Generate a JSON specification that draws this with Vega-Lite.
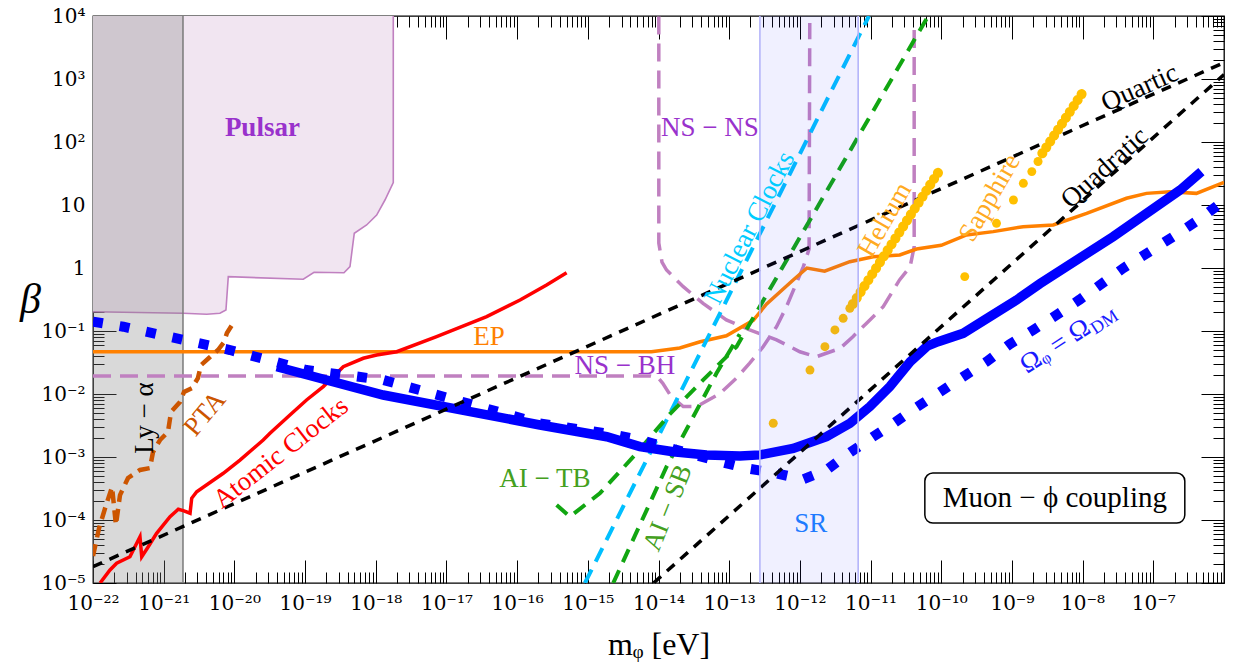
{
  "$schema": "https://vega.github.io/schema/vega-lite/v6.json",
  "width": 1131,
  "height": 567,
  "autosize": {"type": "none"},
  "padding": {"left": 93, "top": 16, "right": 9, "bottom": 83},
  "background": "white",
  "config": {
    "view": {"stroke": "black", "strokeWidth": 1.3},
    "font": "Liberation Serif",
    "text": {"font": "Liberation Serif"}
  },
  "resolve": {"axis": {"x": "independent", "y": "independent"}},
  "datasets": {
    "pulsar": [
      {"m": 1e-22, "beta": 0.202}, {"m": 1.89e-21, "beta": 0.191}, {"m": 4.06e-21, "beta": 0.184},
      {"m": 6.25e-21, "beta": 0.191}, {"m": 7.6e-21, "beta": 0.215}, {"m": 8.2e-21, "beta": 0.728},
      {"m": 9.44e-20, "beta": 0.662}, {"m": 1.34e-19, "beta": 0.855}, {"m": 3.55e-19, "beta": 0.841},
      {"m": 4.32e-19, "beta": 1.05}, {"m": 4.97e-19, "beta": 3.56}, {"m": 7.43e-19, "beta": 4.82},
      {"m": 1.03e-18, "beta": 6.93}, {"m": 1.35e-18, "beta": 12.0}, {"m": 1.77e-18, "beta": 22.6},
      {"m": 1.77e-18, "beta": 10000}
    ],
    "lya": [{"m1": 1e-22, "m2": 1.875e-21}],
    "sr": [{"m1": 2.72e-13, "m2": 6.68e-12}],
    "box": [{"m1": 5.86e-11, "m2": 2.79e-7, "b1": 8.95e-5, "b2": 5.57e-4}],
    "blue_solid": [
      {"m": 3.98e-20, "beta": 0.0271}, {"m": 1.276e-18, "beta": 0.00964}, {"m": 2.1e-16, "beta": 0.00322},
      {"m": 1.85e-15, "beta": 0.0021}, {"m": 5.46e-15, "beta": 0.00146}, {"m": 1.61e-14, "beta": 0.00121},
      {"m": 4.79e-14, "beta": 0.00108}, {"m": 1.42e-13, "beta": 0.00104}, {"m": 2.72e-13, "beta": 0.00108},
      {"m": 8.04e-13, "beta": 0.00137}, {"m": 2.38e-12, "beta": 0.0021}, {"m": 5.09e-12, "beta": 0.00342},
      {"m": 9.77e-12, "beta": 0.00631}, {"m": 1.875e-11, "beta": 0.0131}, {"m": 3.63e-11, "beta": 0.0326},
      {"m": 6.31e-11, "beta": 0.0575}, {"m": 9.04e-11, "beta": 0.0676}, {"m": 2.04e-10, "beta": 0.0918},
      {"m": 4.88e-10, "beta": 0.169}, {"m": 1.16e-9, "beta": 0.31}, {"m": 2.48e-9, "beta": 0.562},
      {"m": 2.69e-8, "beta": 3.14}, {"m": 2.4e-7, "beta": 17.3}, {"m": 4.79e-7, "beta": 33.9}
    ],
    "blue_dotted": [
      {"m": 1e-22, "beta": 0.141}, {"m": 2.69e-22, "beta": 0.117}, {"m": 8.67e-21, "beta": 0.0499},
      {"m": 1.05e-19, "beta": 0.024}, {"m": 1.28e-18, "beta": 0.0167}, {"m": 2.1e-16, "beta": 0.00342},
      {"m": 2.04e-15, "beta": 0.00232}, {"m": 5.5e-15, "beta": 0.00186}, {"m": 7.38e-14, "beta": 0.000843},
      {"m": 1.76e-13, "beta": 0.000661}, {"m": 4.2e-13, "beta": 0.000564}, {"m": 1.11e-12, "beta": 0.000443},
      {"m": 2.38e-12, "beta": 0.000622}, {"m": 4.57e-12, "beta": 0.00108}, {"m": 1.09e-11, "beta": 0.0021},
      {"m": 2.09e-11, "beta": 0.00339}, {"m": 4.47e-11, "beta": 0.00617}, {"m": 9.55e-11, "beta": 0.0107},
      {"m": 2.04e-10, "beta": 0.0188}, {"m": 4.37e-10, "beta": 0.0326}, {"m": 9.33e-10, "beta": 0.0617},
      {"m": 2.0e-9, "beta": 0.104}, {"m": 4.27e-9, "beta": 0.179}, {"m": 9.12e-9, "beta": 0.316},
      {"m": 3.74e-8, "beta": 0.989}, {"m": 1.91e-7, "beta": 3.14}, {"m": 4.32e-7, "beta": 5.78},
      {"m": 1e-6, "beta": 11.7}
    ],
    "ep": [
      {"m": 1e-22, "beta": 0.0469}, {"m": 7.94e-15, "beta": 0.0469}, {"m": 2.0e-14, "beta": 0.0537},
      {"m": 3.89e-14, "beta": 0.0676}, {"m": 9.12e-14, "beta": 0.0841}, {"m": 2.19e-13, "beta": 0.148},
      {"m": 3.39e-13, "beta": 0.269}, {"m": 8.04e-13, "beta": 0.646}, {"m": 1.26e-12, "beta": 1.0},
      {"m": 2.24e-12, "beta": 0.891}, {"m": 5.09e-12, "beta": 1.26}, {"m": 1.09e-11, "beta": 1.51},
      {"m": 2.59e-11, "beta": 1.61}, {"m": 4.47e-11, "beta": 2.0}, {"m": 1e-10, "beta": 2.29},
      {"m": 2.28e-10, "beta": 3.34}, {"m": 5.43e-10, "beta": 3.78}, {"m": 1.44e-9, "beta": 4.53},
      {"m": 3.84e-9, "beta": 4.82}, {"m": 1.14e-8, "beta": 7.38}, {"m": 4.17e-8, "beta": 12.8},
      {"m": 8.0e-8, "beta": 15.3}, {"m": 1.71e-7, "beta": 16.2}, {"m": 4.07e-7, "beta": 15.3},
      {"m": 1e-6, "beta": 22.9}
    ],
    "nsbh": [
      {"m": 1e-22, "beta": 0.0193}, {"m": 7.59e-15, "beta": 0.0193}, {"m": 1e-14, "beta": 0.0178},
      {"m": 1.15e-14, "beta": 0.0148}, {"m": 1.51e-14, "beta": 0.00912}, {"m": 2.24e-14, "beta": 0.00631},
      {"m": 3.47e-14, "beta": 0.00631}, {"m": 7.41e-14, "beta": 0.0102}, {"m": 1.26e-13, "beta": 0.0178},
      {"m": 1.95e-13, "beta": 0.0309}, {"m": 3.02e-13, "beta": 0.0562}, {"m": 4.68e-13, "beta": 0.117},
      {"m": 6.46e-13, "beta": 0.243}, {"m": 8.91e-13, "beta": 0.571}, {"m": 1.12e-12, "beta": 1.05},
      {"m": 1.35e-12, "beta": 2.0}, {"m": 1.38e-12, "beta": 7760}
    ],
    "nsns": [
      {"m": 1.01e-14, "beta": 9800}, {"m": 1.01e-14, "beta": 2.49}, {"m": 1.12e-14, "beta": 1.24},
      {"m": 1.3e-14, "beta": 0.929}, {"m": 2.24e-14, "beta": 0.505}, {"m": 4.27e-14, "beta": 0.275},
      {"m": 9.12e-14, "beta": 0.15}, {"m": 1.95e-13, "beta": 0.104}, {"m": 4.68e-13, "beta": 0.0724},
      {"m": 1e-12, "beta": 0.0468}, {"m": 1.7e-12, "beta": 0.0389}, {"m": 3.72e-12, "beta": 0.0531},
      {"m": 5.62e-12, "beta": 0.0813}, {"m": 8.71e-12, "beta": 0.132}, {"m": 1.51e-11, "beta": 0.243},
      {"m": 2.57e-11, "beta": 0.646}, {"m": 3.63e-11, "beta": 1.05}, {"m": 4.14e-11, "beta": 2.18},
      {"m": 4.14e-11, "beta": 6760}
    ],
    "quartic": [{"m": 1e-22, "beta": 1.82e-5}, {"m": 1e-6, "beta": 1820}],
    "quadratic": [{"m": 8.51e-15, "beta": 1e-5}, {"m": 1e-6, "beta": 1175}],
    "red": [
      {"m": 1.26e-22, "beta": 1e-5}, {"m": 1.74e-22, "beta": 1.61e-5}, {"m": 2.16e-22, "beta": 2.06e-5},
      {"m": 3.33e-22, "beta": 2.61e-5}, {"m": 4.62e-22, "beta": 5.43e-5}, {"m": 4.89e-22, "beta": 2.61e-5},
      {"m": 6.05e-22, "beta": 3.77e-5}, {"m": 7.94e-22, "beta": 6.15e-5}, {"m": 1.23e-21, "beta": 1.13e-4},
      {"m": 1.61e-21, "beta": 1.48e-4}, {"m": 1.89e-21, "beta": 1.41e-4}, {"m": 2.36e-21, "beta": 1.28e-4},
      {"m": 2.49e-21, "beta": 2.21e-4}, {"m": 2.93e-21, "beta": 2.81e-4}, {"m": 6.97e-21, "beta": 5.51e-4},
      {"m": 1.2e-20, "beta": 8.95e-4}, {"m": 2.56e-20, "beta": 0.00186}, {"m": 3.19e-20, "beta": 0.00238},
      {"m": 6.11e-20, "beta": 0.00465}, {"m": 1.05e-19, "beta": 0.00804}, {"m": 1.81e-19, "beta": 0.0131},
      {"m": 3.47e-19, "beta": 0.0271}, {"m": 6.65e-19, "beta": 0.0369}, {"m": 1.03e-18, "beta": 0.0416},
      {"m": 1.98e-18, "beta": 0.0469}, {"m": 7.26e-18, "beta": 0.0813}, {"m": 3.71e-17, "beta": 0.169},
      {"m": 1.1e-16, "beta": 0.31}, {"m": 2.61e-16, "beta": 0.537}, {"m": 5.01e-16, "beta": 0.841}
    ],
    "pta": [
      {"m": 1e-22, "beta": 2.69e-5}, {"m": 1.22e-22, "beta": 7.46e-5}, {"m": 1.53e-22, "beta": 1.73e-4},
      {"m": 1.86e-22, "beta": 3.34e-4}, {"m": 2.11e-22, "beta": 8.34e-5}, {"m": 2.41e-22, "beta": 2.49e-4},
      {"m": 3.13e-22, "beta": 4.65e-4}, {"m": 4.62e-22, "beta": 6.22e-4}, {"m": 6.4e-22, "beta": 6.68e-4},
      {"m": 7.06e-22, "beta": 0.0012}, {"m": 8.87e-22, "beta": 0.00186}, {"m": 1.15e-21, "beta": 0.00249},
      {"m": 1.27e-21, "beta": 0.00518}, {"m": 1.7e-21, "beta": 0.00746}, {"m": 1.94e-21, "beta": 0.0108},
      {"m": 2.51e-21, "beta": 0.0124}, {"m": 3.05e-21, "beta": 0.0179}, {"m": 3.37e-21, "beta": 0.0288},
      {"m": 4.52e-21, "beta": 0.0386}, {"m": 5.86e-21, "beta": 0.0499}, {"m": 7.13e-21, "beta": 0.0668},
      {"m": 7.85e-21, "beta": 0.0929}, {"m": 9.86e-21, "beta": 0.139}
    ],
    "nuclear": [{"m": 9.1e-16, "beta": 1e-5}, {"m": 9.48e-12, "beta": 10000}],
    "aitb": [
      {"m": 3.62e-16, "beta": 1.73e-4}, {"m": 5.58e-16, "beta": 1.13e-4}, {"m": 1.48e-15, "beta": 2.65e-4},
      {"m": 4.9e-15, "beta": 0.00115}, {"m": 1.48e-14, "beta": 0.00494}, {"m": 4.29e-14, "beta": 0.0167},
      {"m": 1.27e-13, "beta": 0.0564}, {"m": 6.53e-11, "beta": 10000}
    ],
    "aisb": [
      {"m": 2.29e-15, "beta": 1e-5}, {"m": 1.3e-14, "beta": 7.01e-4}, {"m": 6.61e-14, "beta": 0.0213},
      {"m": 1.41e-13, "beta": 0.0891}
    ],
    "helium_pts": [
      {"m": 4.2e-13, "beta": 0.00343}, {"m": 1.39e-12, "beta": 0.024}, {"m": 2.26e-12, "beta": 0.0564},
      {"m": 3.13e-12, "beta": 0.104}, {"m": 4.1e-12, "beta": 0.159}, {"m": 5.09e-12, "beta": 0.229}
    ],
    "helium_line": [{"m": 5.62e-12, "beta": 0.269}, {"m": 9.55e-11, "beta": 36.0}],
    "sapphire_pts": [
      {"m": 2.15e-10, "beta": 0.73}, {"m": 6.05e-10, "beta": 5.12}, {"m": 1.05e-9, "beta": 12.0},
      {"m": 1.45e-9, "beta": 22.1}, {"m": 1.91e-9, "beta": 33.9}, {"m": 2.34e-9, "beta": 49.0}
    ],
    "sapphire_line": [{"m": 2.69e-9, "beta": 66.1}, {"m": 1.02e-8, "beta": 631}],
    "labels": [
      {"label": "Pulsar", "m": 2.49e-20, "beta": 167},
      {"label": "NS − NS", "m": 5.33e-14, "beta": 167},
      {"label": "NS − BH", "m": 3.35e-15, "beta": 0.0278},
      {"label": "EP", "m": 3.99e-17, "beta": 0.0789},
      {"label": "Atomic Clocks", "m": 4.56e-20, "beta": 0.001156},
      {"label": "PTA", "m": 3.84e-21, "beta": 0.00482},
      {"label": "Ly − α", "m": 5.45e-22, "beta": 0.00416},
      {"label": "AI − TB", "m": 2.47e-16, "beta": 0.000448},
      {"label": "AI − SB", "m": 1.36e-14, "beta": 0.000155},
      {"label": "Nuclear Clocks", "m": 1.96e-13, "beta": 4.32},
      {"label": "Helium", "m": 1.59e-11, "beta": 5.78},
      {"label": "Sapphire", "m": 4.86e-10, "beta": 12.9},
      {"label": "Quartic", "m": 6.44e-8, "beta": 719},
      {"label": "Quadratic", "m": 2.06e-8, "beta": 38.6},
      {"label": "Ωᵩ = Ω", "m": 1.19e-8, "beta": 0.124},
      {"label": "DM", "m": 1.19e-8, "beta": 0.124},
      {"label": "SR", "m": 1.43e-12, "beta": 8.65e-5},
      {"label": "Muon − ϕ coupling", "m": 4.05e-9, "beta": 0.000223}
    ]
  },
  "layer": [
    {
      "data": {"name": "pulsar"},
      "mark": {"type": "area", "color": "#f1e5f1", "orient": "vertical", "clip": true},
      "encoding": {
        "x": {"field": "m", "type": "quantitative", "scale": {"type": "log", "domain": [1e-22, 1e-6], "nice": false},
          "axis": {"orient": "bottom", "tickCount": 20, "grid": false, "domain": false, "ticks": true,
            "tickColor": "black", "tickWidth": 1,
            "tickSize": {"condition": {"test": "abs(log(datum.value)/LN10 - round(log(datum.value)/LN10)) < 0.001", "value": -23}, "value": -11},
            "labelExpr": "abs(log(datum.value)/LN10 - round(log(datum.value)/LN10)) < 0.001 ? ['10⁻²²','10⁻²¹','10⁻²⁰','10⁻¹⁹','10⁻¹⁸','10⁻¹⁷','10⁻¹⁶','10⁻¹⁵','10⁻¹⁴','10⁻¹³','10⁻¹²','10⁻¹¹','10⁻¹⁰','10⁻⁹','10⁻⁸','10⁻⁷',''][round(log(datum.value)/LN10) + 22] : ''",
            "labelFont": "DejaVu Serif", "labelFontSize": 20, "labelColor": "black", "labelPadding": 33,
            "labelOverlap": false, "labelFlush": false, "labelBound": false,
            "title": "mᵩ  [eV]", "titleFont": "Liberation Serif", "titleFontSize": 32, "titleFontWeight": "normal",
            "titleColor": "black", "titlePadding": 4}},
        "y": {"field": "beta", "type": "quantitative", "scale": {"type": "log", "domain": [1e-5, 1e4], "nice": false},
          "axis": {"orient": "left", "tickCount": 20, "grid": false, "domain": false, "ticks": true,
            "tickColor": "black", "tickWidth": 1,
            "tickSize": {"condition": {"test": "abs(log(datum.value)/LN10 - round(log(datum.value)/LN10)) < 0.001", "value": -23}, "value": -11},
            "labelExpr": "abs(log(datum.value)/LN10 - round(log(datum.value)/LN10)) < 0.001 ? ['10⁻⁵','10⁻⁴','10⁻³','10⁻²','10⁻¹','1','10','10²','10³','10⁴'][round(log(datum.value)/LN10) + 5] : ''",
            "labelFont": "DejaVu Serif", "labelFontSize": 20, "labelColor": "black", "labelPadding": 31,
            "labelOverlap": false, "labelFlush": false, "labelBound": false,
            "title": "β", "titleAngle": 0, "titleFont": "Liberation Serif", "titleFontSize": 42, "titleFontWeight": "normal",
            "titleFontStyle": "italic", "titleColor": "black", "titlePadding": 11, "titleBaseline": "middle", "titleAlign": "center"}},
        "y2": {"datum": 10000},
        "order": {"value": null}
      }
    },
    {
      "data": {"name": "pulsar"},
      "mark": {"type": "line", "color": "#c080c0", "strokeWidth": 1.6, "clip": true},
      "encoding": {
        "x": {"field": "m", "type": "quantitative", "scale": {"type": "log", "domain": [1e-22, 1e-6], "nice": false},
          "axis": {"orient": "top", "tickCount": 20, "grid": false, "domain": false, "ticks": true, "labels": false, "title": null,
            "tickColor": "black", "tickWidth": 1,
            "tickSize": {"condition": {"test": "abs(log(datum.value)/LN10 - round(log(datum.value)/LN10)) < 0.001", "value": -23}, "value": -11}}},
        "y": {"field": "beta", "type": "quantitative", "scale": {"type": "log", "domain": [1e-5, 1e4], "nice": false},
          "axis": {"orient": "right", "tickCount": 20, "grid": false, "domain": false, "ticks": true, "labels": false, "title": null,
            "tickColor": "black", "tickWidth": 1,
            "tickSize": {"condition": {"test": "abs(log(datum.value)/LN10 - round(log(datum.value)/LN10)) < 0.001", "value": -23}, "value": -11}}},
        "order": {"value": null}
      }
    },
    {
      "data": {"name": "lya"},
      "mark": {"type": "rect", "color": "#808080", "opacity": 0.3, "clip": true},
      "encoding": {
        "x": {"field": "m1", "type": "quantitative", "scale": {"type": "log", "domain": [1e-22, 1e-6], "nice": false}, "axis": null},
        "x2": {"field": "m2"},
        "y": {"datum": 1e-5, "type": "quantitative", "scale": {"type": "log", "domain": [1e-5, 1e4], "nice": false}, "axis": null},
        "y2": {"datum": 10000}
      }
    },
    {
      "data": {"name": "lya"},
      "mark": {"type": "rule", "color": "#7a7a7a", "strokeWidth": 1.5},
      "encoding": {
        "x": {"field": "m2", "type": "quantitative", "scale": {"type": "log", "domain": [1e-22, 1e-6], "nice": false}, "axis": null}
      }
    },
    {
      "data": {"name": "nsbh"},
      "mark": {"type": "line", "color": "#c080c0", "strokeWidth": 3.5, "strokeDash": [18, 9], "clip": true},
      "encoding": {
        "x": {"field": "m", "type": "quantitative", "scale": {"type": "log", "domain": [1e-22, 1e-6], "nice": false}, "axis": null},
        "y": {"field": "beta", "type": "quantitative", "scale": {"type": "log", "domain": [1e-5, 1e4], "nice": false}, "axis": null},
        "order": {"value": null}
      }
    },
    {
      "data": {"name": "nsns"},
      "mark": {"type": "line", "color": "#c080c0", "strokeWidth": 3.5, "strokeDash": [18, 9], "clip": true},
      "encoding": {
        "x": {"field": "m", "type": "quantitative", "scale": {"type": "log", "domain": [1e-22, 1e-6], "nice": false}, "axis": null},
        "y": {"field": "beta", "type": "quantitative", "scale": {"type": "log", "domain": [1e-5, 1e4], "nice": false}, "axis": null},
        "order": {"value": null}
      }
    },
    {
      "data": {"name": "ep"},
      "mark": {"type": "line", "color": "#ff8000", "strokeWidth": 3.5, "clip": true},
      "encoding": {
        "x": {"field": "m", "type": "quantitative", "scale": {"type": "log", "domain": [1e-22, 1e-6], "nice": false}, "axis": null},
        "y": {"field": "beta", "type": "quantitative", "scale": {"type": "log", "domain": [1e-5, 1e4], "nice": false}, "axis": null},
        "order": {"value": null}
      }
    },
    {
      "data": {"name": "red"},
      "mark": {"type": "line", "color": "#ff0000", "strokeWidth": 3.5, "clip": true},
      "encoding": {
        "x": {"field": "m", "type": "quantitative", "scale": {"type": "log", "domain": [1e-22, 1e-6], "nice": false}, "axis": null},
        "y": {"field": "beta", "type": "quantitative", "scale": {"type": "log", "domain": [1e-5, 1e4], "nice": false}, "axis": null},
        "order": {"value": null}
      }
    },
    {
      "data": {"name": "pta"},
      "mark": {"type": "line", "color": "#cc5500", "strokeWidth": 4.5, "strokeDash": [12, 7], "clip": true},
      "encoding": {
        "x": {"field": "m", "type": "quantitative", "scale": {"type": "log", "domain": [1e-22, 1e-6], "nice": false}, "axis": null},
        "y": {"field": "beta", "type": "quantitative", "scale": {"type": "log", "domain": [1e-5, 1e4], "nice": false}, "axis": null},
        "order": {"value": null}
      }
    },
    {
      "data": {"name": "nuclear"},
      "mark": {"type": "line", "color": "#00bfff", "strokeWidth": 4, "strokeDash": [15, 9], "clip": true},
      "encoding": {
        "x": {"field": "m", "type": "quantitative", "scale": {"type": "log", "domain": [1e-22, 1e-6], "nice": false}, "axis": null},
        "y": {"field": "beta", "type": "quantitative", "scale": {"type": "log", "domain": [1e-5, 1e4], "nice": false}, "axis": null},
        "order": {"value": null}
      }
    },
    {
      "data": {"name": "aitb"},
      "mark": {"type": "line", "color": "#11a611", "strokeWidth": 4, "strokeDash": [14, 9], "clip": true},
      "encoding": {
        "x": {"field": "m", "type": "quantitative", "scale": {"type": "log", "domain": [1e-22, 1e-6], "nice": false}, "axis": null},
        "y": {"field": "beta", "type": "quantitative", "scale": {"type": "log", "domain": [1e-5, 1e4], "nice": false}, "axis": null},
        "order": {"value": null}
      }
    },
    {
      "data": {"name": "aisb"},
      "mark": {"type": "line", "color": "#11a611", "strokeWidth": 4, "strokeDash": [14, 9], "clip": true},
      "encoding": {
        "x": {"field": "m", "type": "quantitative", "scale": {"type": "log", "domain": [1e-22, 1e-6], "nice": false}, "axis": null},
        "y": {"field": "beta", "type": "quantitative", "scale": {"type": "log", "domain": [1e-5, 1e4], "nice": false}, "axis": null},
        "order": {"value": null}
      }
    },
    {
      "data": {"name": "blue_dotted"},
      "mark": {"type": "line", "color": "#0000ff", "strokeWidth": 10, "strokeDash": [10, 17], "clip": true},
      "encoding": {
        "x": {"field": "m", "type": "quantitative", "scale": {"type": "log", "domain": [1e-22, 1e-6], "nice": false}, "axis": null},
        "y": {"field": "beta", "type": "quantitative", "scale": {"type": "log", "domain": [1e-5, 1e4], "nice": false}, "axis": null},
        "order": {"value": null}
      }
    },
    {
      "data": {"name": "blue_solid"},
      "mark": {"type": "line", "color": "#0000ff", "strokeWidth": 9.5, "clip": true},
      "encoding": {
        "x": {"field": "m", "type": "quantitative", "scale": {"type": "log", "domain": [1e-22, 1e-6], "nice": false}, "axis": null},
        "y": {"field": "beta", "type": "quantitative", "scale": {"type": "log", "domain": [1e-5, 1e4], "nice": false}, "axis": null},
        "order": {"value": null}
      }
    },
    {
      "data": {"name": "quartic"},
      "mark": {"type": "line", "color": "#000000", "strokeWidth": 3.5, "strokeDash": [10, 8], "clip": true},
      "encoding": {
        "x": {"field": "m", "type": "quantitative", "scale": {"type": "log", "domain": [1e-22, 1e-6], "nice": false}, "axis": null},
        "y": {"field": "beta", "type": "quantitative", "scale": {"type": "log", "domain": [1e-5, 1e4], "nice": false}, "axis": null}
      }
    },
    {
      "data": {"name": "quadratic"},
      "mark": {"type": "line", "color": "#000000", "strokeWidth": 3.5, "strokeDash": [10, 8], "clip": true},
      "encoding": {
        "x": {"field": "m", "type": "quantitative", "scale": {"type": "log", "domain": [1e-22, 1e-6], "nice": false}, "axis": null},
        "y": {"field": "beta", "type": "quantitative", "scale": {"type": "log", "domain": [1e-5, 1e4], "nice": false}, "axis": null}
      }
    },
    {
      "data": {"name": "helium_line"},
      "mark": {"type": "line", "color": "#ffc000", "strokeWidth": 10, "strokeDash": [0.1, 7], "strokeCap": "round", "clip": true},
      "encoding": {
        "x": {"field": "m", "type": "quantitative", "scale": {"type": "log", "domain": [1e-22, 1e-6], "nice": false}, "axis": null},
        "y": {"field": "beta", "type": "quantitative", "scale": {"type": "log", "domain": [1e-5, 1e4], "nice": false}, "axis": null}
      }
    },
    {
      "data": {"name": "helium_pts"},
      "mark": {"type": "point", "filled": true, "color": "#ffc000", "size": 80, "opacity": 1, "clip": true},
      "encoding": {
        "x": {"field": "m", "type": "quantitative", "scale": {"type": "log", "domain": [1e-22, 1e-6], "nice": false}, "axis": null},
        "y": {"field": "beta", "type": "quantitative", "scale": {"type": "log", "domain": [1e-5, 1e4], "nice": false}, "axis": null}
      }
    },
    {
      "data": {"name": "sapphire_line"},
      "mark": {"type": "line", "color": "#ffc000", "strokeWidth": 10, "strokeDash": [0.1, 7], "strokeCap": "round", "clip": true},
      "encoding": {
        "x": {"field": "m", "type": "quantitative", "scale": {"type": "log", "domain": [1e-22, 1e-6], "nice": false}, "axis": null},
        "y": {"field": "beta", "type": "quantitative", "scale": {"type": "log", "domain": [1e-5, 1e4], "nice": false}, "axis": null}
      }
    },
    {
      "data": {"name": "sapphire_pts"},
      "mark": {"type": "point", "filled": true, "color": "#ffc000", "size": 80, "opacity": 1, "clip": true},
      "encoding": {
        "x": {"field": "m", "type": "quantitative", "scale": {"type": "log", "domain": [1e-22, 1e-6], "nice": false}, "axis": null},
        "y": {"field": "beta", "type": "quantitative", "scale": {"type": "log", "domain": [1e-5, 1e4], "nice": false}, "axis": null}
      }
    },
    {
      "data": {"name": "sr"},
      "mark": {"type": "rect", "color": "#4040ff", "opacity": 0.08, "clip": true},
      "encoding": {
        "x": {"field": "m1", "type": "quantitative", "scale": {"type": "log", "domain": [1e-22, 1e-6], "nice": false}, "axis": null},
        "x2": {"field": "m2"},
        "y": {"datum": 1e-5, "type": "quantitative", "scale": {"type": "log", "domain": [1e-5, 1e4], "nice": false}, "axis": null},
        "y2": {"datum": 10000}
      }
    },
    {
      "data": {"name": "sr"},
      "mark": {"type": "rule", "color": "#b4b4fa", "strokeWidth": 1.6},
      "encoding": {
        "x": {"field": "m1", "type": "quantitative", "scale": {"type": "log", "domain": [1e-22, 1e-6], "nice": false}, "axis": null}
      }
    },
    {
      "data": {"name": "sr"},
      "mark": {"type": "rule", "color": "#b4b4fa", "strokeWidth": 1.6},
      "encoding": {
        "x": {"field": "m2", "type": "quantitative", "scale": {"type": "log", "domain": [1e-22, 1e-6], "nice": false}, "axis": null}
      }
    },
    {
      "data": {"name": "box"},
      "mark": {"type": "rect", "fill": "white", "stroke": "black", "strokeWidth": 1.5, "cornerRadius": 8},
      "encoding": {
        "x": {"field": "m1", "type": "quantitative", "scale": {"type": "log", "domain": [1e-22, 1e-6], "nice": false}, "axis": null},
        "x2": {"field": "m2"},
        "y": {"field": "b1", "type": "quantitative", "scale": {"type": "log", "domain": [1e-5, 1e4], "nice": false}, "axis": null},
        "y2": {"field": "b2"}
      }
    },
    {
      "data": {"name": "labels"},
      "transform": [{"filter": "datum.label === 'Pulsar'"}],
      "mark": {"type": "text", "font": "Liberation Serif", "fontSize": 27, "fontWeight": "bold", "color": "#9932cc"},
      "encoding": {
        "x": {"field": "m", "type": "quantitative", "scale": {"type": "log", "domain": [1e-22, 1e-6], "nice": false}, "axis": null},
        "y": {"field": "beta", "type": "quantitative", "scale": {"type": "log", "domain": [1e-5, 1e4], "nice": false}, "axis": null},
        "text": {"field": "label"}
      }
    },
    {
      "data": {"name": "labels"},
      "transform": [{"filter": "datum.label === 'NS − NS' || datum.label === 'NS − BH'"}],
      "mark": {"type": "text", "font": "Liberation Serif", "fontSize": 27, "color": "#9932cc"},
      "encoding": {
        "x": {"field": "m", "type": "quantitative", "scale": {"type": "log", "domain": [1e-22, 1e-6], "nice": false}, "axis": null},
        "y": {"field": "beta", "type": "quantitative", "scale": {"type": "log", "domain": [1e-5, 1e4], "nice": false}, "axis": null},
        "text": {"field": "label"}
      }
    },
    {
      "data": {"name": "labels"},
      "transform": [{"filter": "datum.label === 'EP'"}],
      "mark": {"type": "text", "font": "Liberation Serif", "fontSize": 27, "color": "#ff8000"},
      "encoding": {
        "x": {"field": "m", "type": "quantitative", "scale": {"type": "log", "domain": [1e-22, 1e-6], "nice": false}, "axis": null},
        "y": {"field": "beta", "type": "quantitative", "scale": {"type": "log", "domain": [1e-5, 1e4], "nice": false}, "axis": null},
        "text": {"field": "label"}
      }
    },
    {
      "data": {"name": "labels"},
      "transform": [{"filter": "datum.label === 'Atomic Clocks'"}],
      "mark": {"type": "text", "font": "Liberation Serif", "fontSize": 27, "color": "#ff0000", "angle": -38},
      "encoding": {
        "x": {"field": "m", "type": "quantitative", "scale": {"type": "log", "domain": [1e-22, 1e-6], "nice": false}, "axis": null},
        "y": {"field": "beta", "type": "quantitative", "scale": {"type": "log", "domain": [1e-5, 1e4], "nice": false}, "axis": null},
        "text": {"field": "label"}
      }
    },
    {
      "data": {"name": "labels"},
      "transform": [{"filter": "datum.label === 'PTA'"}],
      "mark": {"type": "text", "font": "Liberation Serif", "fontSize": 27, "color": "#cc5500", "angle": -50},
      "encoding": {
        "x": {"field": "m", "type": "quantitative", "scale": {"type": "log", "domain": [1e-22, 1e-6], "nice": false}, "axis": null},
        "y": {"field": "beta", "type": "quantitative", "scale": {"type": "log", "domain": [1e-5, 1e4], "nice": false}, "axis": null},
        "text": {"field": "label"}
      }
    },
    {
      "data": {"name": "labels"},
      "transform": [{"filter": "datum.label === 'Ly − α'"}],
      "mark": {"type": "text", "font": "Liberation Serif", "fontSize": 27, "color": "#000000", "angle": -90},
      "encoding": {
        "x": {"field": "m", "type": "quantitative", "scale": {"type": "log", "domain": [1e-22, 1e-6], "nice": false}, "axis": null},
        "y": {"field": "beta", "type": "quantitative", "scale": {"type": "log", "domain": [1e-5, 1e4], "nice": false}, "axis": null},
        "text": {"field": "label"}
      }
    },
    {
      "data": {"name": "labels"},
      "transform": [{"filter": "datum.label === 'AI − TB'"}],
      "mark": {"type": "text", "font": "Liberation Serif", "fontSize": 27, "color": "#44a020"},
      "encoding": {
        "x": {"field": "m", "type": "quantitative", "scale": {"type": "log", "domain": [1e-22, 1e-6], "nice": false}, "axis": null},
        "y": {"field": "beta", "type": "quantitative", "scale": {"type": "log", "domain": [1e-5, 1e4], "nice": false}, "axis": null},
        "text": {"field": "label"}
      }
    },
    {
      "data": {"name": "labels"},
      "transform": [{"filter": "datum.label === 'AI − SB'"}],
      "mark": {"type": "text", "font": "Liberation Serif", "fontSize": 27, "color": "#44a020", "angle": -68},
      "encoding": {
        "x": {"field": "m", "type": "quantitative", "scale": {"type": "log", "domain": [1e-22, 1e-6], "nice": false}, "axis": null},
        "y": {"field": "beta", "type": "quantitative", "scale": {"type": "log", "domain": [1e-5, 1e4], "nice": false}, "axis": null},
        "text": {"field": "label"}
      }
    },
    {
      "data": {"name": "labels"},
      "transform": [{"filter": "datum.label === 'Nuclear Clocks'"}],
      "mark": {"type": "text", "font": "Liberation Serif", "fontSize": 27, "color": "#00ccff", "angle": -63},
      "encoding": {
        "x": {"field": "m", "type": "quantitative", "scale": {"type": "log", "domain": [1e-22, 1e-6], "nice": false}, "axis": null},
        "y": {"field": "beta", "type": "quantitative", "scale": {"type": "log", "domain": [1e-5, 1e4], "nice": false}, "axis": null},
        "text": {"field": "label"}
      }
    },
    {
      "data": {"name": "labels"},
      "transform": [{"filter": "datum.label === 'Helium' || datum.label === 'Sapphire'"}],
      "mark": {"type": "text", "font": "Liberation Serif", "fontSize": 27, "color": "#ffaa22", "angle": -60},
      "encoding": {
        "x": {"field": "m", "type": "quantitative", "scale": {"type": "log", "domain": [1e-22, 1e-6], "nice": false}, "axis": null},
        "y": {"field": "beta", "type": "quantitative", "scale": {"type": "log", "domain": [1e-5, 1e4], "nice": false}, "axis": null},
        "text": {"field": "label"}
      }
    },
    {
      "data": {"name": "labels"},
      "transform": [{"filter": "datum.label === 'Quartic'"}],
      "mark": {"type": "text", "font": "Liberation Serif", "fontSize": 27, "color": "#000000", "angle": -24},
      "encoding": {
        "x": {"field": "m", "type": "quantitative", "scale": {"type": "log", "domain": [1e-22, 1e-6], "nice": false}, "axis": null},
        "y": {"field": "beta", "type": "quantitative", "scale": {"type": "log", "domain": [1e-5, 1e4], "nice": false}, "axis": null},
        "text": {"field": "label"}
      }
    },
    {
      "data": {"name": "labels"},
      "transform": [{"filter": "datum.label === 'Quadratic'"}],
      "mark": {"type": "text", "font": "Liberation Serif", "fontSize": 27, "color": "#000000", "angle": -42},
      "encoding": {
        "x": {"field": "m", "type": "quantitative", "scale": {"type": "log", "domain": [1e-22, 1e-6], "nice": false}, "axis": null},
        "y": {"field": "beta", "type": "quantitative", "scale": {"type": "log", "domain": [1e-5, 1e4], "nice": false}, "axis": null},
        "text": {"field": "label"}
      }
    },
    {
      "data": {"name": "labels"},
      "transform": [{"filter": "datum.label === 'Ωᵩ = Ω'"}],
      "mark": {"type": "text", "font": "Liberation Serif", "fontSize": 27, "color": "#1a1aff", "angle": -33, "align": "right"},
      "encoding": {
        "x": {"field": "m", "type": "quantitative", "scale": {"type": "log", "domain": [1e-22, 1e-6], "nice": false}, "axis": null},
        "y": {"field": "beta", "type": "quantitative", "scale": {"type": "log", "domain": [1e-5, 1e4], "nice": false}, "axis": null},
        "text": {"field": "label"}
      }
    },
    {
      "data": {"name": "labels"},
      "transform": [{"filter": "datum.label === 'DM'"}],
      "mark": {"type": "text", "font": "Liberation Serif", "fontSize": 18, "color": "#1a1aff", "angle": -33, "align": "left", "dx": 1, "dy": 7},
      "encoding": {
        "x": {"field": "m", "type": "quantitative", "scale": {"type": "log", "domain": [1e-22, 1e-6], "nice": false}, "axis": null},
        "y": {"field": "beta", "type": "quantitative", "scale": {"type": "log", "domain": [1e-5, 1e4], "nice": false}, "axis": null},
        "text": {"field": "label"}
      }
    },
    {
      "data": {"name": "labels"},
      "transform": [{"filter": "datum.label === 'SR'"}],
      "mark": {"type": "text", "font": "Liberation Serif", "fontSize": 27, "color": "#1e7bff"},
      "encoding": {
        "x": {"field": "m", "type": "quantitative", "scale": {"type": "log", "domain": [1e-22, 1e-6], "nice": false}, "axis": null},
        "y": {"field": "beta", "type": "quantitative", "scale": {"type": "log", "domain": [1e-5, 1e4], "nice": false}, "axis": null},
        "text": {"field": "label"}
      }
    },
    {
      "data": {"name": "labels"},
      "transform": [{"filter": "datum.label === 'Muon − ϕ coupling'"}],
      "mark": {"type": "text", "font": "Liberation Serif", "fontSize": 29, "color": "#000000"},
      "encoding": {
        "x": {"field": "m", "type": "quantitative", "scale": {"type": "log", "domain": [1e-22, 1e-6], "nice": false}, "axis": null},
        "y": {"field": "beta", "type": "quantitative", "scale": {"type": "log", "domain": [1e-5, 1e4], "nice": false}, "axis": null},
        "text": {"field": "label"}
      }
    }
  ]
}
